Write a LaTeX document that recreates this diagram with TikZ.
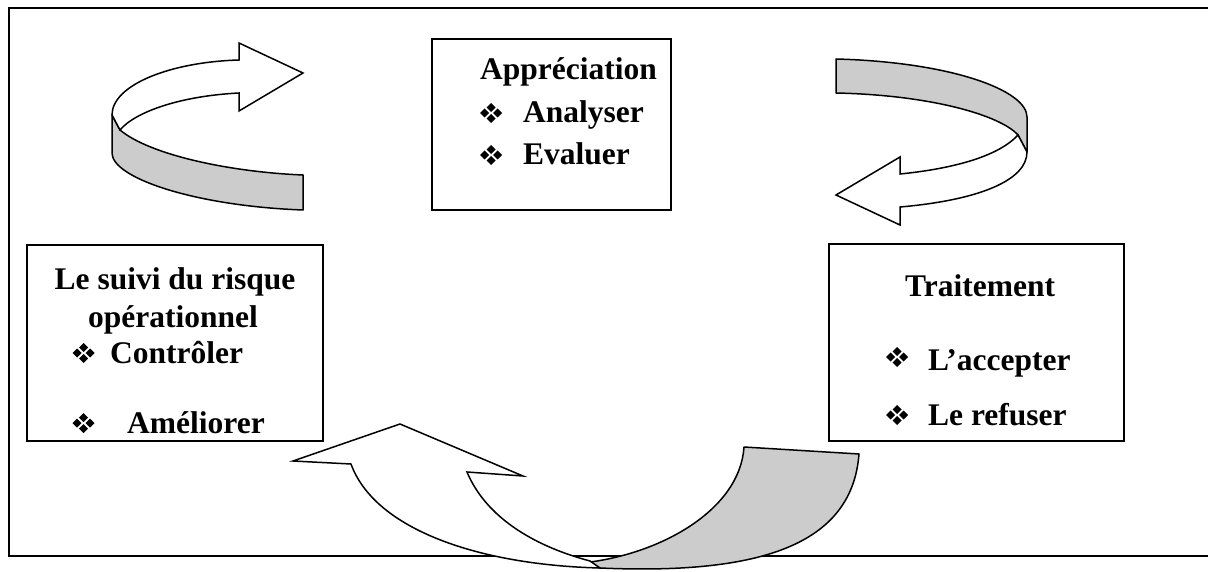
\documentclass[tikz,border=0pt]{standalone}
\usepackage{fontspec}
\setmainfont{Liberation Serif}
\begin{document}
\begin{tikzpicture}[x=1pt,y=-1pt,
  frame/.style={line width=2pt},
  box/.style={draw, line width=1.5pt, inner sep=0pt},
  ribbon/.style={draw, line width=1.5pt, fill=black!20, line join=round},
  warrow/.style={draw, line width=1.5pt, fill=white, line join=miter},
  lbl/.style={font=\bfseries\fontsize{31.5}{38}\selectfont, inner sep=0pt},
  bul/.pic={
    \fill (-11,0) -- (-6.5,-4.5) -- (-2,0) -- (-6.5,4.5) -- cycle;
    \fill (11,0) -- (6.5,-4.5) -- (2,0) -- (6.5,4.5) -- cycle;
    \fill (-4.5,-5.5) -- (0,-10) -- (4.5,-5.5) -- (0,-1) -- cycle;
    \fill (-4.5,5.5) -- (0,10) -- (4.5,5.5) -- (0,1) -- cycle;
  }]
\useasboundingbox (0,0) rectangle (1208,572);
\fill[white] (0,0) rectangle (1208,572);
% outer frame (right side lies outside the picture)
\draw[frame] (9,8) rectangle (1240,556);

% boxes
\node[box, minimum width=239pt, minimum height=171pt] (appbox) at (551.5,124.5) {};
\node[box, minimum width=296pt, minimum height=196pt] (suivibox) at (175,343) {};
\node[box, minimum width=295pt, minimum height=197pt] (traitbox) at (976.5,342.5) {};

% Appreciation texts
\node[lbl, anchor=base west] (app) at (480,80) {Appréciation};
\pic (b1) at (491,113) {bul};
\node[lbl, anchor=base west] (ana) at (523,123) {Analyser};
\pic (b2) at (491,155) {bul};
\node[lbl, anchor=base west] (eva) at (523,165) {Evaluer};

% Suivi texts
\node[lbl, anchor=base] (suivi1) at (175,290) {Le suivi du risque};
\node[lbl, anchor=base] (suivi2) at (173,327) {opérationnel};
\pic (b3) at (83.5,353) {bul};
\node[lbl, anchor=base west] (ctrl) at (110,363) {Contrôler};
\pic (b4) at (83.5,423) {bul};
\node[lbl, anchor=base west] (amel) at (127,433) {Améliorer};

% Traitement texts
\node[lbl, anchor=base west] (trait) at (905,297) {Traitement};
\pic (b5) at (897,357) {bul};
\node[lbl, anchor=base west] (acc) at (928,370) {L’accepter};
\pic (b6) at (897,415) {bul};
\node[lbl, anchor=base west] (ref) at (928,425) {Le refuser};

% top-left ribbon arrow
\path[ribbon] (112,115) -- (112,153) .. controls (112,178) and (195,206) .. (303,210)
  -- (303,175) .. controls (230,172) and (150,155) .. (120,130) -- cycle;
\path[warrow] (239,60) -- (239,43) -- (303,73) -- (239,111) -- (239,93)
  .. controls (180,96) and (135,112) .. (120,130) -- (112,115)
  .. controls (112,85) and (170,62) .. (239,60) -- cycle;

% top-right ribbon arrow
\path[ribbon] (836,59) .. controls (950,62) and (1027,90) .. (1027,117) -- (1027,152)
  -- (1018,135) .. controls (1000,115) and (930,95) .. (836,93) -- cycle;
\path[warrow] (1018,135) .. controls (995,160) and (940,170) .. (900,174)
  -- (900,157) -- (836,195) -- (900,225) -- (900,207)
  .. controls (980,200) and (1027,180) .. (1027,152) -- cycle;

% bottom ribbon arrow
\path[ribbon] (744,447) -- (859,454) .. controls (852,545) and (760,575) .. (600,568)
  -- (582,563) .. controls (660,555) and (740,510) .. (744,447) -- cycle;
\path[warrow] (351,464) -- (293,461) -- (400,424) -- (523,476) -- (467,472)
  .. controls (485,515) and (530,545) .. (590,561) -- (600,568)
  .. controls (480,565) and (375,530) .. (351,464) -- cycle;
\end{tikzpicture}
\end{document}
